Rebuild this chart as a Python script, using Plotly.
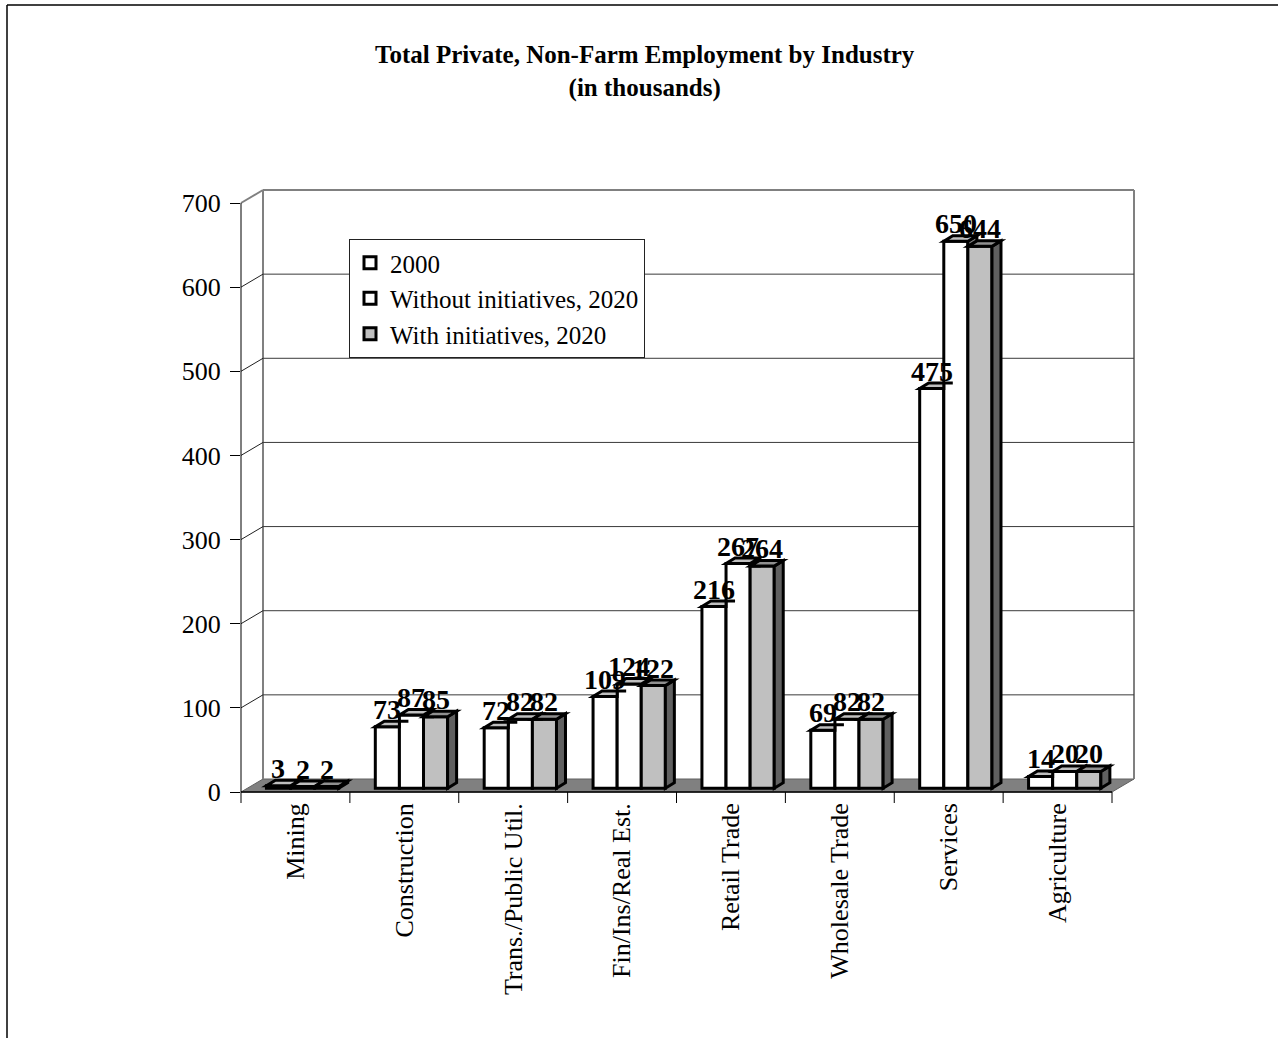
import plotly.graph_objects as go

# ---------------- data ----------------
categories = ["Mining", "Construction", "Trans./Public Util.", "Fin/Ins/Real Est.",
              "Retail Trade", "Wholesale Trade", "Services", "Agriculture"]
series_names = ["2000", "Without initiatives, 2020", "With initiatives, 2020"]
values_2000 = [3, 73, 72, 109, 216, 69, 475, 14]
values_without_2020 = [2, 87, 82, 124, 267, 82, 650, 20]
values_with_2020 = [2, 85, 82, 122, 264, 82, 644, 20]
y_tick_values = [0, 100, 200, 300, 400, 500, 600, 700]
title_text = "Total Private, Non-Farm Employment by Industry<br>(in thousands)"

series_values = [values_2000, values_without_2020, values_with_2020]
series_fills = ["#FFFFFF", "#FFFFFF", "#C0C0C0"]

# ---------------- geometry (pixels) ----------------
W, H = 1278, 1038
L, R, T, B = 241, 1134, 190, 792
front_right_px = 1112
cat_px = (front_right_px - L) / len(categories)
y_px = (792 - 203) / 700.0

x0 = -0.5
x1 = x0 + (R - L) / cat_px
y1 = (B - T) / y_px

# floor / back wall depth
dxu = 22 / cat_px
dyu = 13 / y_px
# bar depth
bdx = 9 / cat_px
bdy = 5.5 / y_px
bar_base = ((13 - 5.5) / 2) / y_px
bw = 24.1 / cat_px
group_left = -29 / cat_px
FONT = "Liberation Serif, Times New Roman, serif"


def pxp(xd):
    return (xd - x0) / (x1 - x0)


def pyp(yd):
    return yd / y1


def ppx(px):
    return (px - L) / (R - L)


def ppy(py):
    return (B - py) / (B - T)


def shade(hexcol, f):
    h = hexcol.lstrip("#")
    r, g, b = (int(h[i:i + 2], 16) for i in (0, 2, 4))
    return "#%02X%02X%02X" % (int(r * f), int(g * f), int(b * f))


def path_of(pts):
    return "M " + " L ".join("%.5f,%.5f" % p for p in pts) + " Z"


def clip_above(poly, c):
    out = []
    n = len(poly)
    for k in range(n):
        p, q = poly[k], poly[(k + 1) % n]
        pin, qin = p[1] >= c, q[1] >= c
        if pin:
            out.append(p)
        if pin != qin:
            t = (c - p[1]) / (q[1] - p[1])
            out.append((p[0] + t * (q[0] - p[0]), c))
    return out


fig = go.Figure()

# ---------------- bars ----------------
for s, (name, vals, fill) in enumerate(zip(series_names, series_values, series_fills)):
    fig.add_trace(go.Bar(
        x=list(range(len(categories))), y=vals, base=bar_base,
        width=bw, offset=group_left + s * bw,
        name=name, legendgroup=name,
        marker=dict(color=fill, line=dict(color="black", width=3)),
        hoverinfo="skip",
    ))

shapes = []

# ---------------- decoration (walls, floor, grid) ----------------
line_gray = "#808080"
shapes.append(dict(type="path", xref="paper", yref="paper", layer="below",
                   path=path_of([(pxp(x0), pyp(0)), (pxp(x0 + dxu), pyp(dyu)),
                                 (pxp(x1), pyp(dyu)), (pxp(x1 - dxu), pyp(0))]),
                   fillcolor="#808080", line=dict(color="#606060", width=1)))
shapes.append(dict(type="line", xref="paper", yref="paper", layer="below",
                   x0=pxp(x0 + dxu), y0=pyp(dyu), x1=pxp(x0 + dxu), y1=pyp(700 + dyu),
                   line=dict(color=line_gray, width=2)))
shapes.append(dict(type="line", xref="paper", yref="paper", layer="below",
                   x0=pxp(x0 + dxu), y0=pyp(700 + dyu), x1=pxp(x1), y1=pyp(700 + dyu),
                   line=dict(color=line_gray, width=2)))
shapes.append(dict(type="line", xref="paper", yref="paper", layer="below",
                   x0=pxp(x1), y0=pyp(dyu), x1=pxp(x1), y1=pyp(700 + dyu),
                   line=dict(color=line_gray, width=2)))
shapes.append(dict(type="line", xref="paper", yref="paper", layer="below",
                   x0=pxp(x0), y0=pyp(700), x1=pxp(x0 + dxu), y1=pyp(700 + dyu),
                   line=dict(color=line_gray, width=2)))
for v in y_tick_values[1:-1]:
    shapes.append(dict(type="line", xref="paper", yref="paper", layer="below",
                       x0=pxp(x0 + dxu), y0=pyp(v + dyu), x1=pxp(x1), y1=pyp(v + dyu),
                       line=dict(color="#3A3A3A", width=1)))
    shapes.append(dict(type="line", xref="paper", yref="paper", layer="below",
                       x0=pxp(x0), y0=pyp(v), x1=pxp(x0 + dxu), y1=pyp(v + dyu),
                       line=dict(color="#202020", width=1)))
shapes.append(dict(type="line", xref="paper", yref="paper", layer="below",
                   x0=pxp(x0), y0=pyp(0), x1=pxp(x0), y1=pyp(700),
                   line=dict(color="black", width=1)))
shapes.append(dict(type="line", xref="paper", yref="paper", layer="below",
                   x0=pxp(x0), y0=pyp(0), x1=pxp(x1 - dxu), y1=pyp(0),
                   line=dict(color="black", width=1.5)))
for k in range(len(categories) + 1):
    xb = x0 + k
    shapes.append(dict(type="line", xref="paper", yref="paper", layer="below",
                       x0=pxp(xb), y0=0, x1=pxp(xb), y1=-11 / (B - T),
                       line=dict(color="black", width=1)))

# chart-area frame (top and left visible)
shapes.append(dict(type="line", xref="paper", yref="paper", x0=ppx(7), y0=ppy(5),
                   x1=ppx(1290), y1=ppy(5), line=dict(color="black", width=1.5)))
shapes.append(dict(type="line", xref="paper", yref="paper", x0=ppx(7), y0=ppy(5),
                   x1=ppx(7), y1=ppy(1050), line=dict(color="black", width=1.5)))

# ---------------- 3D faces of bars + value labels ----------------
annotations = []
for i in range(len(categories)):
    for s in range(3):
        v = series_values[s][i]
        fill = series_fills[s]
        xl = i + group_left + s * bw
        xr = xl + bw
        b = bar_base
        t = bar_base + v
        side = [(xr, b), (xr + bdx, b + bdy), (xr + bdx, t + bdy), (xr, t)]
        if s < 2:
            tnext = bar_base + series_values[s + 1][i]
            tn = min(max(tnext, t), t + bdy)
            top = [(xl, t), (xr, t), (xr, tn), (xr + bdx * (tn - t) / bdy, tn),
                   (xr + bdx, t + bdy), (xl + bdx, t + bdy)]
            side = clip_above(side, tnext)
        else:
            top = [(xl, t), (xr, t), (xr + bdx, t + bdy), (xl + bdx, t + bdy)]
        if len(side) >= 3:
            shapes.append(dict(type="path", xref="x", yref="y", layer="above",
                               path=path_of(side), fillcolor=shade(fill, 0.5),
                               line=dict(color="black", width=3)))
        shapes.append(dict(type="path", xref="x", yref="y", layer="above",
                           path=path_of(top), fillcolor=shade(fill, 0.75),
                           line=dict(color="black", width=3)))
        annotations.append(dict(x=(xl + xr) / 2, y=t, xref="x", yref="y",
                                text=str(v), showarrow=False, yanchor="bottom",
                                xanchor="center", yshift=0,
                                font=dict(family=FONT, size=28, color="black",
                                          weight="bold")))

# title
annotations.append(dict(x=ppx(645), y=ppy(72), xref="paper", yref="paper",
                        text=title_text, showarrow=False, xanchor="center",
                        yanchor="middle",
                        font=dict(family=FONT, size=25, color="black", weight="bold")))

fig.update_layout(
    width=W, height=H,
    margin=dict(l=L, r=W - R, t=T, b=H - B, pad=0),
    paper_bgcolor="white", plot_bgcolor="white",
    barmode="overlay",
    showlegend=True,
    xaxis=dict(range=[x0, x1], tickvals=list(range(len(categories))), ticktext=categories,
               tickangle=-90, ticks="", showgrid=False, zeroline=False, showline=False,
               ticklabelstandoff=5,
               tickfont=dict(family=FONT, size=26, color="black")),
    yaxis=dict(range=[0, y1], tickvals=y_tick_values, ticks="outside", ticklen=10,
               tickcolor="black", tickwidth=1, showgrid=False, zeroline=False,
               showline=False, ticklabelstandoff=4,
               tickfont=dict(family=FONT, size=26, color="black")),
    legend=dict(x=(349 - L) / (R - L), y=(B - 239) / (B - T), xanchor="left", yanchor="top",
                bgcolor="white", bordercolor="#222222", borderwidth=1,
                tracegroupgap=6, traceorder="normal", itemwidth=30,
                font=dict(family=FONT, size=25, color="black")),
    shapes=shapes,
    annotations=annotations,
)

fig.write_html("out.html", post_script="document.body.style.margin='0';",
               config={"displayModeBar": False})
